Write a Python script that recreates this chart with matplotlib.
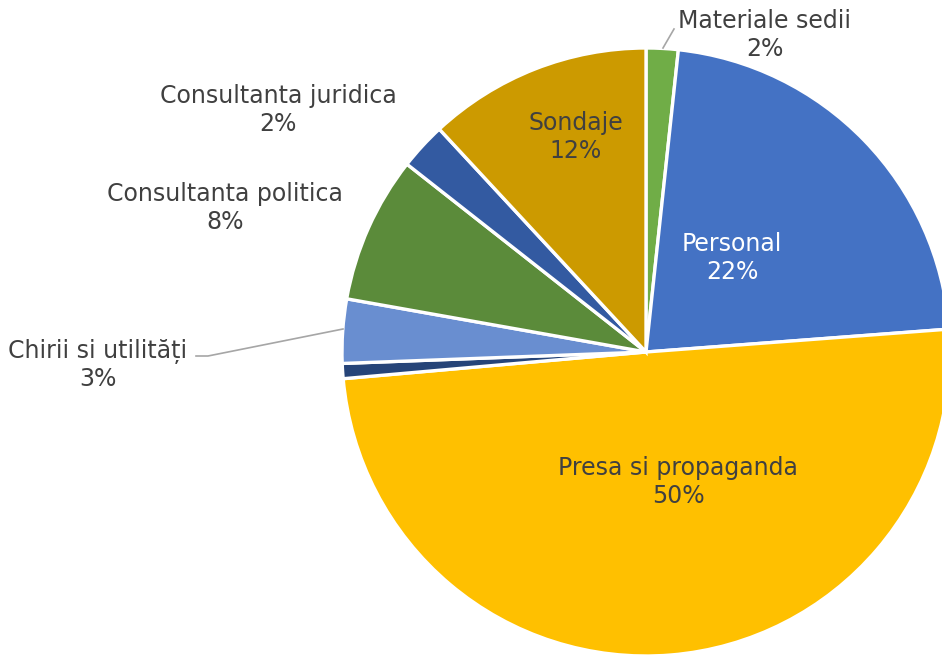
import matplotlib
matplotlib.use("Agg")
import matplotlib.pyplot as plt

# data (clockwise from 12 o'clock)
categories = ["Materiale sedii", "Personal", "Presa si propaganda", "Altele",
              "Chirii si utilități", "Consultanta politica", "Consultanta juridica", "Sondaje"]
shares = [1.7, 22.1, 49.8, 0.8, 3.4, 7.8, 2.5, 11.9]
pct_labels = ["2%", "22%", "50%", "", "3%", "8%", "2%", "12%"]
colors = ["#70AD47", "#4472C4", "#FFC000", "#264478",
          "#698ED0", "#5B8B3A", "#335AA1", "#CC9A00"]

W, H = 942, 657
cx, cy, r = 646, 352, 304  # pie centre / radius in pixels

fig = plt.figure(figsize=(W / 100, H / 100), dpi=100)
ax = fig.add_axes([0, 0, 1, 1])

wedges, _ = ax.pie(shares, colors=colors, startangle=90, counterclock=False,
                   radius=1, center=(0, 0),
                   wedgeprops=dict(edgecolor="white", linewidth=2.4))

ax.set_xlim(-cx / r, (W - cx) / r)
ax.set_ylim(-(H - cy) / r, cy / r)
ax.set_aspect("equal")
ax.axis("off")

def px(x, y):
    return (x - cx) / r, (cy - y) / r

# label block centres in pixels
label_pos = {
    "Materiale sedii": (765, 35),
    "Personal": (732, 258),
    "Presa si propaganda": (678, 482),
    "Chirii si utilități": (98, 365),
    "Consultanta politica": (225, 208),
    "Consultanta juridica": (278, 110),
    "Sondaje": (576, 137),
}

for name, pct in zip(categories, pct_labels):
    if not pct:
        continue
    x, y = px(*label_pos[name])
    col = "white" if name == "Personal" else "#404040"
    ax.text(x, y, f"{name}\n{pct}", ha="center", va="center", fontsize=17,
            color=col, linespacing=1.2, family="DejaVu Sans")

# leader lines
lx, ly = zip(px(663, 48), px(674, 29))
ax.plot(lx, ly, color="#A6A6A6", lw=1.2)
lx, ly = zip(px(343, 329), px(208, 356), px(196, 356))
ax.plot(lx, ly, color="#A6A6A6", lw=1.2)

fig.savefig("out.png", dpi=100)
